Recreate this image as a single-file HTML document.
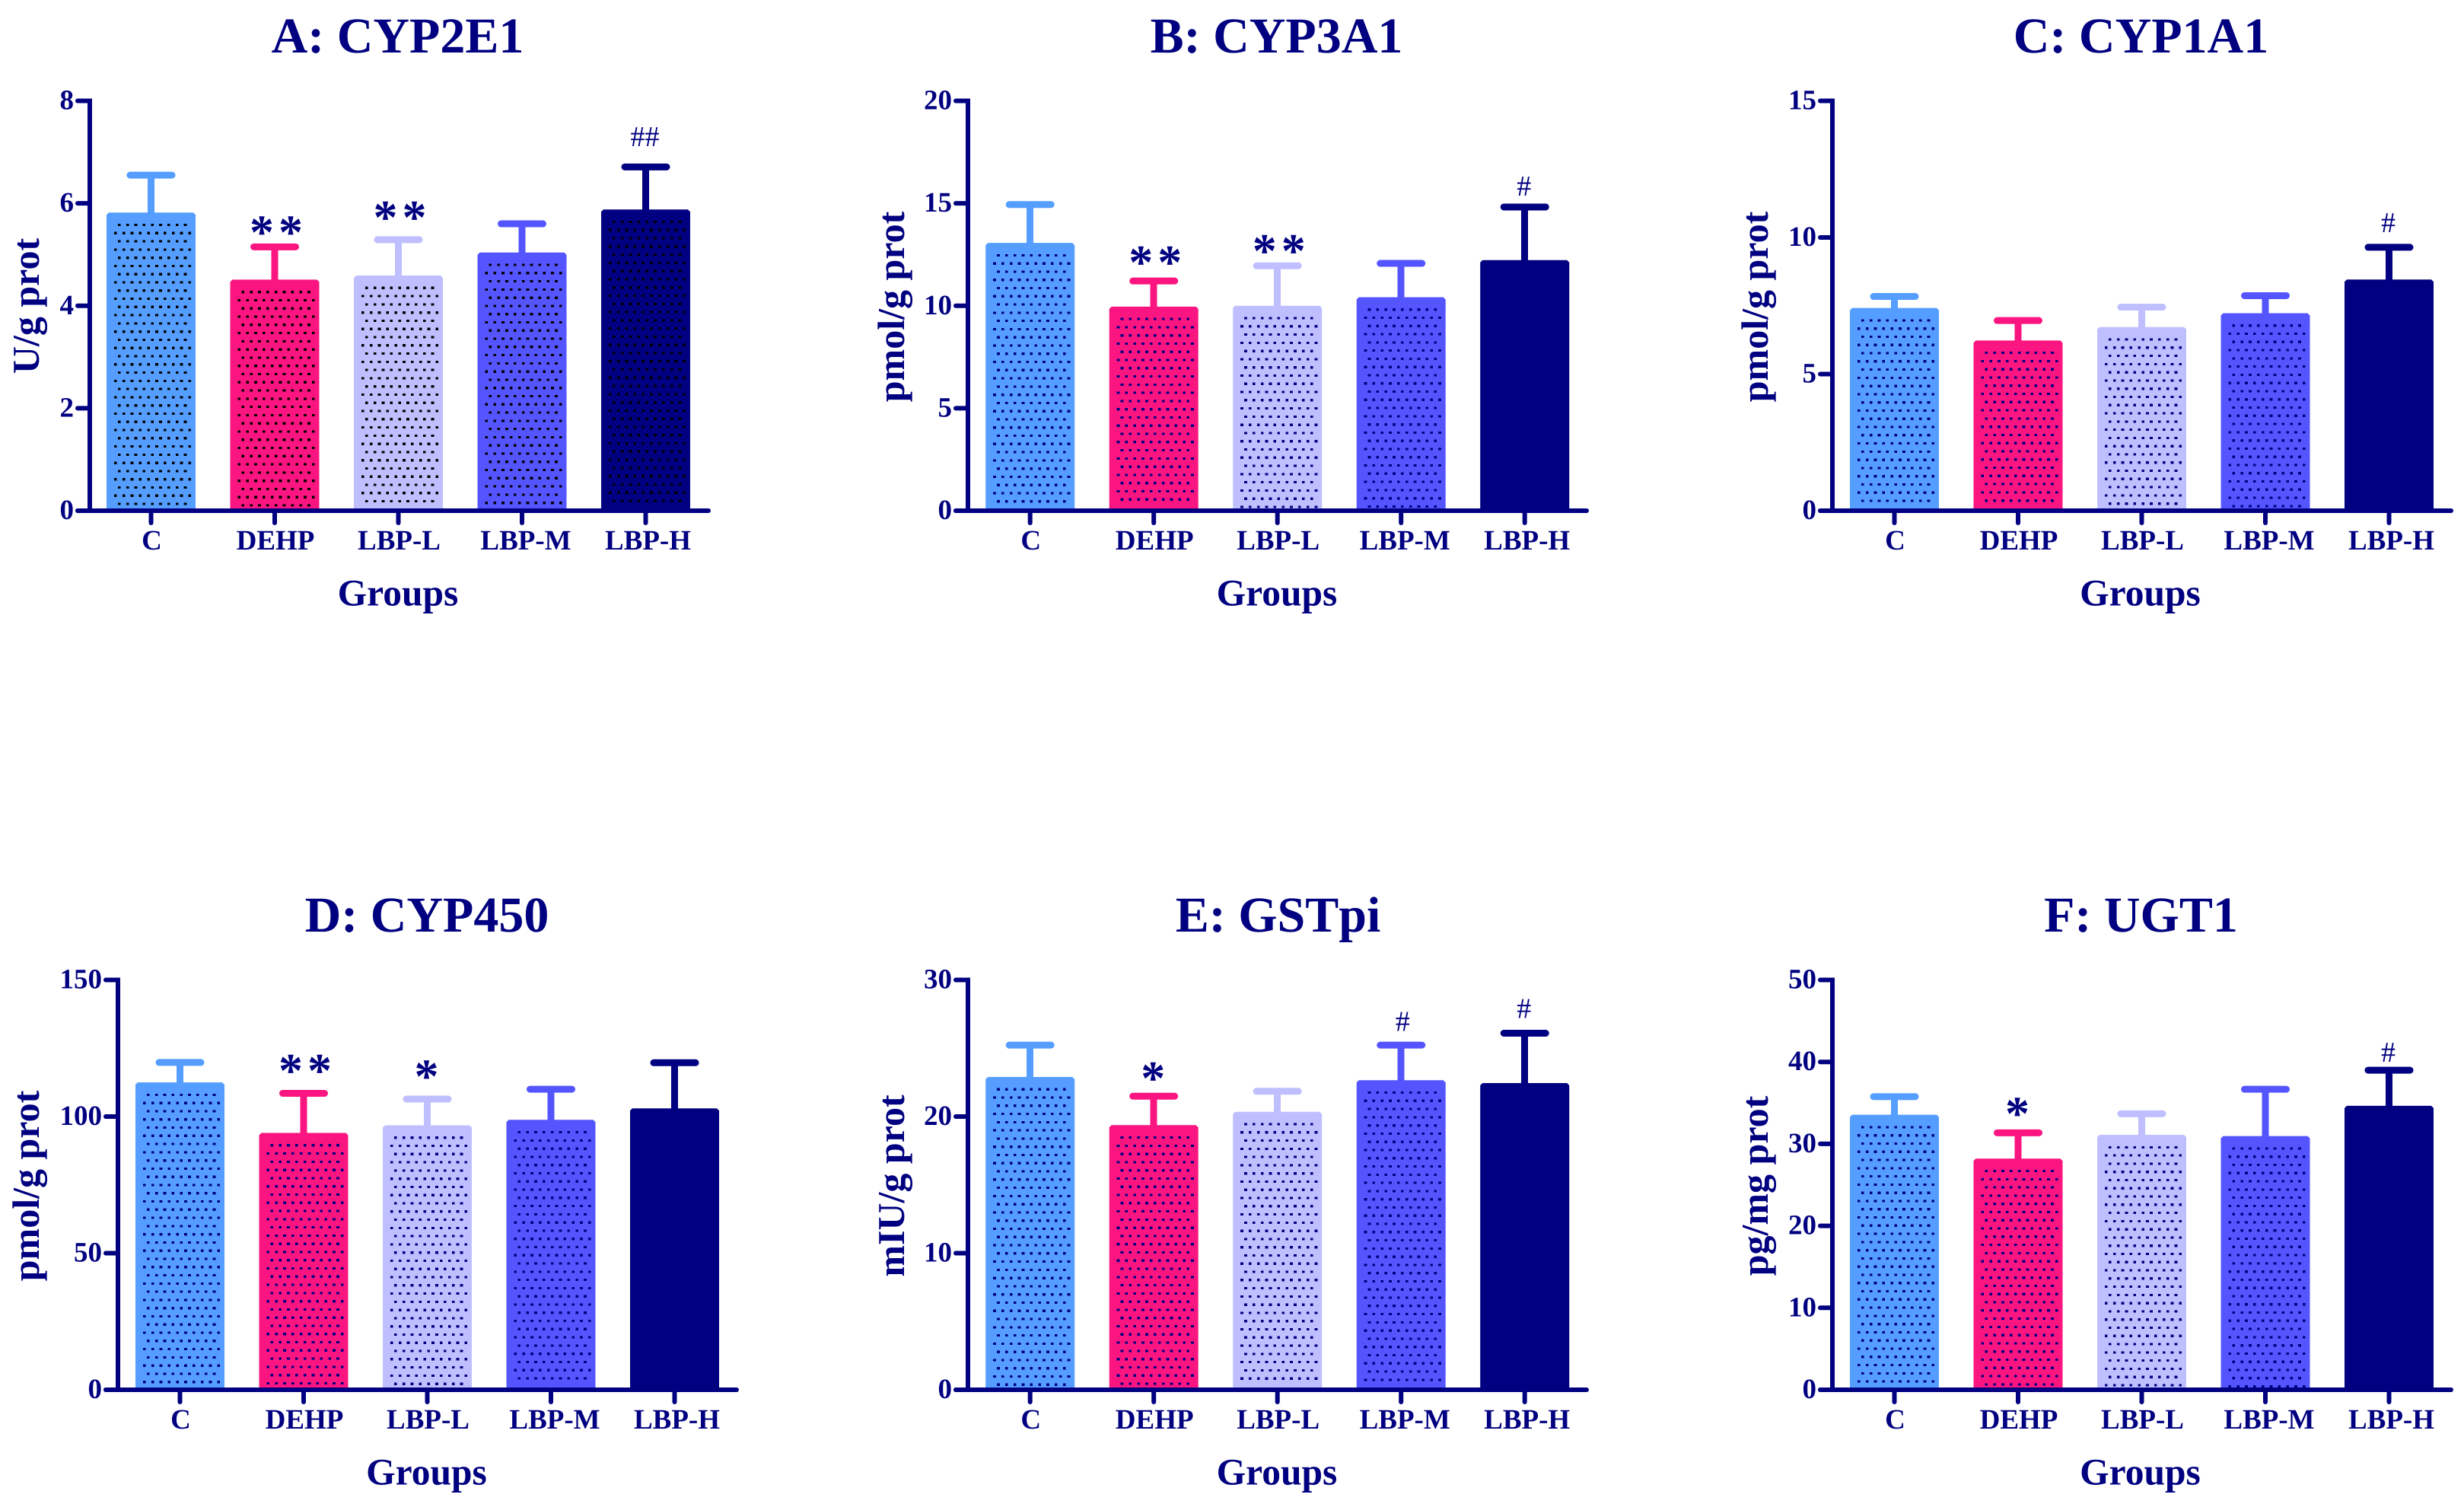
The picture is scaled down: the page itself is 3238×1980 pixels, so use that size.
<!DOCTYPE html>
<html lang="en">
<head>
<meta charset="utf-8">
<title>CYP enzyme bar charts</title>
<style>
html,body{margin:0;padding:0;background:#fff;}
svg{display:block;}
text{font-family:"Liberation Serif","Times New Roman",serif;fill:#000080;font-weight:bold;text-rendering:geometricPrecision;}
</style>
</head>
<body>
<svg id="figure" xmlns="http://www.w3.org/2000/svg" width="3238" height="1980" viewBox="0 0 3238 1980"></svg>
<script>
// ---- data ----
const categories = ['C', 'DEHP', 'LBP-L', 'LBP-M', 'LBP-H'];
const barColors = ['#559EFF', '#FA1580', '#BFBFFF', '#5555FF', '#000080'];

const titles = ['A: CYP2E1', 'B: CYP3A1', 'C: CYP1A1', 'D: CYP450', 'E: GSTpi', 'F: UGT1'];
const yTitles = ['U/g prot', 'pmol/g prot', 'pmol/g prot', 'pmol/g prot', 'mIU/g prot', 'pg/mg prot'];

const ticksA = [0, 2, 4, 6, 8];
const ticksB = [0, 5, 10, 15, 20];
const ticksC = [0, 5, 10, 15];
const ticksD = [0, 50, 100, 150];
const ticksE = [0, 10, 20, 30];
const ticksF = [0, 10, 20, 30, 40, 50];

const meansA = [5.82, 4.51, 4.59, 5.04, 5.88];
const meansB = [13.07, 9.96, 10.0, 10.42, 12.23];
const meansC = [7.42, 6.23, 6.72, 7.23, 8.46];
const meansD = [112.5, 94, 96.8, 98.8, 103];
const meansE = [22.9, 19.37, 20.35, 22.66, 22.45];
const meansF = [33.55, 28.2, 31.1, 30.95, 34.65];

const errTopA = [6.55, 5.15, 5.29, 5.60, 6.71];
const errTopB = [14.94, 11.21, 11.95, 12.07, 14.82];
const errTopC = [7.84, 6.96, 7.45, 7.87, 9.64];
const errTopD = [119.8, 108.5, 106.4, 110, 119.7];
const errTopE = [25.23, 21.49, 21.85, 25.23, 26.1];
const errTopF = [35.76, 31.35, 33.67, 36.66, 38.99];

const sigA = ['', '**', '**', '', '##'];
const sigB = ['', '**', '**', '', '#'];
const sigC = ['', '', '', '', '#'];
const sigD = ['', '**', '*', '', ''];
const sigE = ['', '*', '', '#', '#'];
const sigF = ['', '*', '', '', '#'];

// height of each significance mark, in axis units
const sigLevelA = [0, 5.56, 5.85, 0, 7.30];
const sigLevelB = [0, 12.44, 12.99, 0, 15.84];
const sigLevelC = [0, 0, 0, 0, 10.54];
const sigLevelD = [0, 119.2, 117.2, 0, 0];
const sigLevelE = [0, 23.3, 0, 26.96, 27.92];
const sigLevelF = [0, 34.48, 0, 0, 41.2];

const allTicks = [ticksA, ticksB, ticksC, ticksD, ticksE, ticksF];
const allMeans = [meansA, meansB, meansC, meansD, meansE, meansF];
const allErrTops = [errTopA, errTopB, errTopC, errTopD, errTopE, errTopF];
const allSig = [sigA, sigB, sigC, sigD, sigE, sigF];
const allSigLevels = [sigLevelA, sigLevelB, sigLevelC, sigLevelD, sigLevelE, sigLevelF];

// ---- layout ----
const SVG_NS = 'http://www.w3.org/2000/svg';
const NAVY = '#000080';
const AXIS_H = 538.5;
const PITCH = 162.5;
const BAR_W = 117;
const layout = [
  {axisX: 118,  firstX: 198.5,  endX: 934,  base: 671,  titleX: 522.5,  groupsX: 523, yTitleX: 51,   yTitleY: 402,  dot: '#000000'},
  {axisX: 1272, firstX: 1353.7, endX: 2088, base: 671,  titleX: 1677.5, groupsX: 1678, yTitleX: 1188, yTitleY: 403,  dot: NAVY},
  {axisX: 2408, firstX: 2489.5, endX: 3224, base: 671,  titleX: 2813.5, groupsX: 2812.5, yTitleX: 2323, yTitleY: 403,  dot: NAVY},
  {axisX: 155,  firstX: 236.5,  endX: 971,  base: 1826, titleX: 561,    groupsX: 560.5,  yTitleX: 51,   yTitleY: 1558, dot: NAVY},
  {axisX: 1272, firstX: 1353.7, endX: 2088, base: 1826, titleX: 1679.5, groupsX: 1678, yTitleX: 1188, yTitleY: 1558, dot: NAVY},
  {axisX: 2408, firstX: 2489.5, endX: 3224, base: 1826, titleX: 2813.5, groupsX: 2812.5, yTitleX: 2323, yTitleY: 1558, dot: NAVY}
];
const panelKeys = ['a', 'b', 'c', 'd', 'e', 'f'];

function labelNudge(name) {
  if (name === 'LBP-M') return 5;
  if (name === 'LBP-H') return 3;
  return 1;
}

function hashNudge(name) {
  return name === 'LBP-M' ? 2 : -1;
}

function mk(tag, attrs, parent, txt) {
  const el = document.createElementNS(SVG_NS, tag);
  for (const k in attrs) el.setAttribute(k, attrs[k]);
  if (txt !== undefined) el.textContent = txt;
  parent.appendChild(el);
  return el;
}

function dotPath(left, top, base) {
  let d = '';
  let row = 0;
  for (let y = top + 14.7; y + 3 < base - 3; y += 10.78, row++) {
    const odd = row % 2 === 1;
    const start = odd ? 10 : 15;
    const cols = odd ? 10 : 9;
    for (let k = 0; k < cols; k++) {
      const x = left + start + k * 10.83;
      d += 'M' + x.toFixed(1) + ' ' + y.toFixed(1) + 'h3.7v3.2h-3.7z';
    }
  }
  return d;
}

const svg = document.getElementById('figure');

layout.forEach(function (L, p) {
  const key = panelKeys[p];
  const ticks = allTicks[p];
  const maxV = ticks[ticks.length - 1];
  const yScale = function (v) { return L.base - v / maxV * AXIS_H; };
  const xScale = function (i) { return L.firstX + i * PITCH; };

  const g = mk('g', {}, svg);
  
  

  const title = mk('text', {x: L.titleX, y: L.base - 602, 'text-anchor': 'middle', 'font-size': 66}, g, titles[p]);
  
  

  // bars and error bars
  categories.forEach(function (cat, i) {
    const cx = xScale(i);
    const left = cx - BAR_W / 2;
    const top = yScale(allMeans[p][i]);
    const capY = yScale(allErrTops[p][i]);
    const color = barColors[i];

    const stem = mk('line', {x1: cx, x2: cx, y1: top + 2, y2: capY, stroke: color, 'stroke-width': 9, 'shape-rendering': 'crispEdges'}, g);
    
    

    const cap = mk('line', {x1: cx - 27.5, x2: cx + 27.5, y1: capY, y2: capY, stroke: color, 'stroke-width': 9, 'stroke-linecap': 'round'}, g);
    
    

    const bar = mk('path', {
      d: 'M' + left + ' ' + L.base + 'V' + (top + 3) + 'L' + (left + 3) + ' ' + top + 'H' + (left + BAR_W - 3) + 'L' + (left + BAR_W) + ' ' + (top + 3) + 'V' + L.base + 'Z',
      fill: color
    }, g);
    
    

    const dots = mk('path', {d: dotPath(left, top, L.base), fill: L.dot, 'shape-rendering': 'crispEdges'}, g);
    
    

    const tick = mk('line', {x1: cx, x2: cx, y1: L.base, y2: L.base + 16, stroke: NAVY, 'stroke-width': 6, 'stroke-linecap': 'round'}, g);
    
    

    const lab = mk('text', {x: cx + labelNudge(cat), y: L.base + 51, 'text-anchor': 'middle', 'font-size': 37}, g, cat);
    
    

    const sig = allSig[p][i];
    if (sig) {
      const isStar = sig.charAt(0) === '*';
      const sy = yScale(allSigLevels[p][i]);
      const mark = mk('text', {
        x: isStar ? cx + 2 + (sig.length - 1) * 3 : cx + hashNudge(cat),
        y: sy + (isStar ? 30 : 12.5),
        'text-anchor': 'middle',
        'font-size': isStar ? 64 : 38,
        style: isStar ? 'letter-spacing:6px' : 'font-weight:normal'
      }, g, sig);
      
      
    }
  });

  // axes
  const yAxis = mk('line', {x1: L.axisX, x2: L.axisX, y1: L.base - AXIS_H - 3, y2: L.base, stroke: NAVY, 'stroke-width': 6}, g);
  
  

  const xAxis = mk('line', {x1: L.axisX - 16, x2: L.endX - 3, y1: L.base, y2: L.base, stroke: NAVY, 'stroke-width': 6, 'stroke-linecap': 'round'}, g);
  
  

  ticks.forEach(function (t) {
    const ty = yScale(t);
    const tl = mk('line', {x1: L.axisX - 16, x2: L.axisX, y1: ty, y2: ty, stroke: NAVY, 'stroke-width': 6, 'stroke-linecap': 'round'}, g);
    
    

    const lb = mk('text', {x: L.axisX - 21, y: ty + 11, 'text-anchor': 'end', 'font-size': 37}, g, String(t));
    
    
  });

  const groups = mk('text', {x: L.groupsX, y: L.base + 124.5, 'text-anchor': 'middle', 'font-size': 49.5}, g, 'Groups');
  
  

  const yt = mk('text', {
    x: 0, y: 0, 'text-anchor': 'middle', 'font-size': 50,
    transform: 'translate(' + L.yTitleX + ' ' + L.yTitleY + ') rotate(-90)'
  }, g, yTitles[p]);
  
  
});
</script>
</body>
</html>
